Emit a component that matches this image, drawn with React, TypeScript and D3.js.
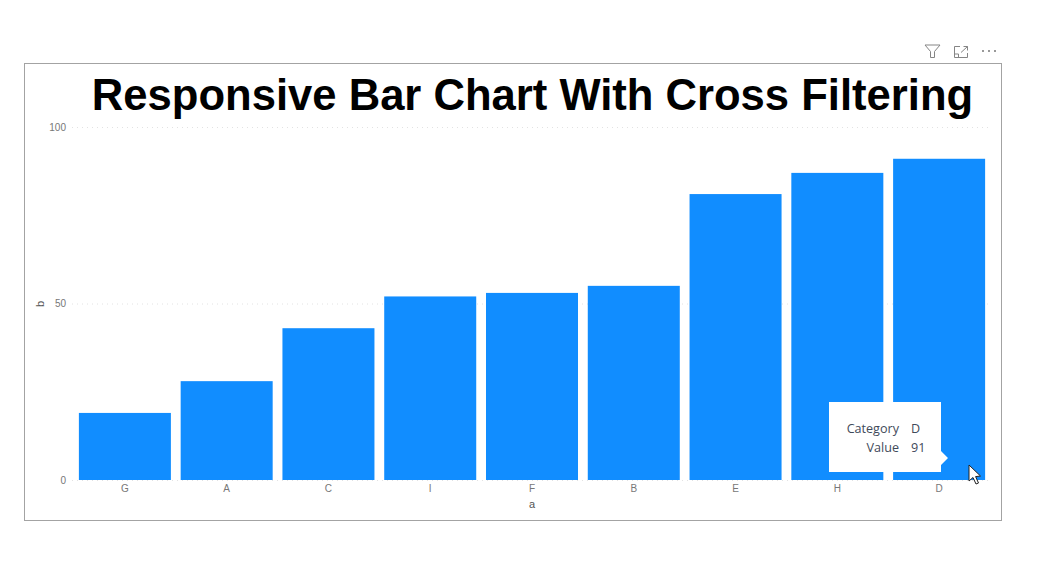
import React, { useRef, useEffect } from "react";
import * as d3 from "d3";

const categories = ["G", "A", "C", "I", "F", "B", "E", "H", "D"];
const values = [19, 28, 43, 52, 53, 55, 81, 87, 91];
const yTicks = [0, 50, 100];
const titleText = "Responsive Bar Chart With Cross Filtering";
const xAxisName = "a";
const yAxisName = "b";
const tooltipLabels = ["Category", "Value"];
const tooltipValues = ["D", "91"];

const W = 1039;
const H = 569;
const BLUE = "#118dff";
const AXIS_FONT = "'Liberation Sans', Arial, sans-serif";
const TIP_FONT = "'Open Sans', sans-serif";

export default function App() {
  const ref = useRef<SVGSVGElement | null>(null);
  useEffect(() => {
    const svg = d3.select(ref.current);
    svg.selectAll("*").remove();

    const x = d3.scaleBand<string>().domain(categories).range([74, 990]).paddingInner(0.096).paddingOuter(0.048);
    const y = d3.scaleLinear().domain([0, 100]).range([480, 127]);

    svg.append("rect").attr("width", W).attr("height", H).attr("fill", "#fff");
    svg.append("rect").attr("x", 24.5).attr("y", 63.5).attr("width", 977).attr("height", 457)
      .attr("fill", "#fff").attr("stroke", "#a3a3a3").attr("stroke-width", 1);

    svg.append("text").attr("x", 532.5).attr("y", 110).attr("text-anchor", "middle")
      .attr("font-family", AXIS_FONT).attr("font-weight", 700).attr("font-size", 43.6).attr("fill", "#000")
      .text(titleText);

    // gridlines
    svg.append("g").selectAll("line").data(yTicks).join("line")
      .attr("x1", 72).attr("x2", 992)
      .attr("y1", d => y(d) + 0.5).attr("y2", d => y(d) + 0.5)
      .attr("stroke", "#e2e2e2").attr("stroke-width", 1).attr("stroke-dasharray", "1 4");

    // y tick labels
    svg.append("g").selectAll("text").data(yTicks).join("text")
      .attr("x", 66).attr("y", d => y(d) + 3.5).attr("text-anchor", "end")
      .attr("font-family", AXIS_FONT).attr("font-size", 10).attr("fill", "#777")
      .text(d => d);

    // bars
    svg.append("g").selectAll("rect").data(categories).join("rect")
      .attr("x", d => x(d)!)
      .attr("y", (_, i) => y(values[i]))
      .attr("width", x.bandwidth())
      .attr("height", (_, i) => y(0) - y(values[i]))
      .attr("fill", BLUE);

    // x tick labels
    svg.append("g").selectAll("text").data(categories).join("text")
      .attr("x", d => x(d)! + x.bandwidth() / 2).attr("y", 492).attr("text-anchor", "middle")
      .attr("font-family", AXIS_FONT).attr("font-size", 10).attr("fill", "#777")
      .text(d => d);

    svg.append("text").attr("x", 532).attr("y", 508).attr("text-anchor", "middle")
      .attr("font-family", AXIS_FONT).attr("font-size", 11).attr("fill", "#555").text(xAxisName);
    svg.append("text").attr("transform", "translate(44,304) rotate(-90)").attr("text-anchor", "middle")
      .attr("font-family", AXIS_FONT).attr("font-size", 11).attr("fill", "#555").text(yAxisName);

    // tooltip
    svg.append("path").attr("d", "M829 402H941V451L948 458L941 465V472H829Z").attr("fill", "#fff");
    const tipRowY = [433, 452];
    svg.append("g").selectAll("text").data(tooltipLabels).join("text")
      .attr("x", 899).attr("y", (_, i) => tipRowY[i]).attr("text-anchor", "end")
      .attr("font-family", TIP_FONT).attr("font-size", 12.6).attr("fill", "#3f4a5a").text(d => d);
    svg.append("g").selectAll("text").data(tooltipValues).join("text")
      .attr("x", 911).attr("y", (_, i) => tipRowY[i])
      .attr("font-family", TIP_FONT).attr("font-size", 12.6).attr("fill", "#3f4a5a").text(d => d);

    // cursor
    svg.append("path").attr("d", "M969 465V481L973 477.5L976 484L978.5 483L975.6 476.6L980.5 476Z")
      .attr("fill", "#fff").attr("stroke", "#222").attr("stroke-width", 1);

    // header icons
    const icons = svg.append("g").attr("fill", "none").attr("stroke", "#858585").attr("stroke-width", 1);
    icons.append("path").attr("d", "M925 45H940L934.5 51.5V57.5H930.5V51.5Z");
    icons.append("path").attr("d", "M960 46.5H954.5V57.5H967.5V53M954.5 54H958.5V57.5M961 52.5L967.5 46.5M963.5 46.5H967.5V50.5");
    svg.append("g").selectAll("circle").data([983, 989, 995]).join("circle")
      .attr("cx", d => d).attr("cy", 51).attr("r", 1).attr("fill", "#777");
  }, []);
  return <svg ref={ref} width={W} height={H} style={{ position: "absolute", left: 0, top: 0 }} />;
}
